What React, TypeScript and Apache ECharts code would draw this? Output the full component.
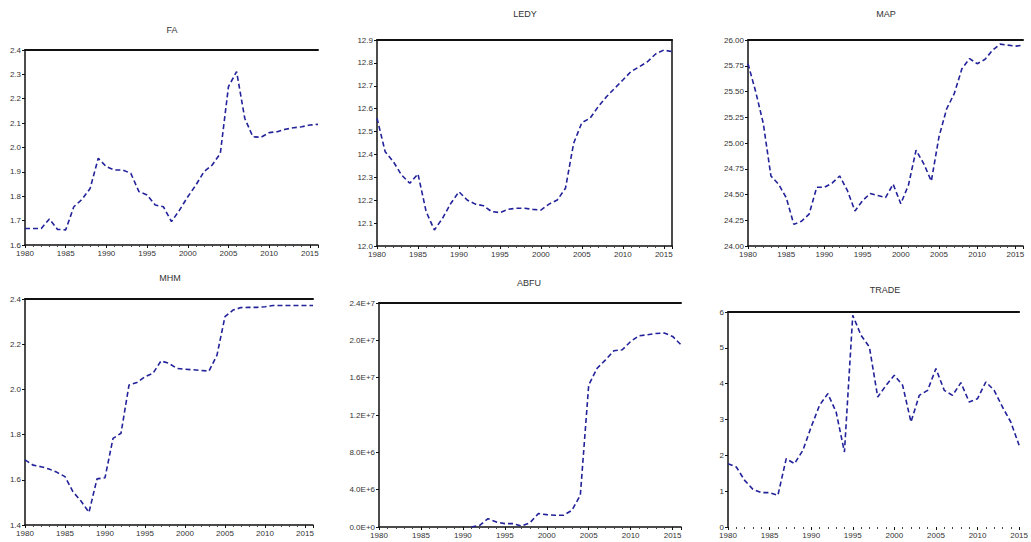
import React, { useEffect, useRef } from "react";
import * as echarts from "echarts";

const years = [1980, 1981, 1982, 1983, 1984, 1985, 1986, 1987, 1988, 1989, 1990, 1991, 1992, 1993, 1994, 1995, 1996, 1997, 1998, 1999, 2000, 2001, 2002, 2003, 2004, 2005, 2006, 2007, 2008, 2009, 2010, 2011, 2012, 2013, 2014, 2015, 2016];

const titles = ["FA", "LEDY", "MAP", "MHM", "ABFU", "TRADE"];

const fa = [1.668, 1.668, 1.668, 1.707, 1.664, 1.662, 1.757, 1.787, 1.832, 1.956, 1.921, 1.908, 1.908, 1.894, 1.819, 1.805, 1.764, 1.757, 1.696, 1.744, 1.798, 1.846, 1.901, 1.928, 1.976, 2.25, 2.311, 2.12, 2.044, 2.042, 2.061, 2.065, 2.075, 2.081, 2.085, 2.092, 2.095];
const ledy = [12.558, 12.412, 12.368, 12.31, 12.274, 12.315, 12.15, 12.07, 12.121, 12.186, 12.237, 12.201, 12.183, 12.176, 12.15, 12.146, 12.16, 12.165, 12.165, 12.16, 12.157, 12.183, 12.201, 12.252, 12.449, 12.539, 12.558, 12.609, 12.652, 12.689, 12.725, 12.762, 12.783, 12.805, 12.839, 12.856, 12.849];
const map = [25.77, 25.5, 25.19, 24.68, 24.6, 24.47, 24.21, 24.24, 24.31, 24.57, 24.57, 24.61, 24.68, 24.54, 24.34, 24.44, 24.51, 24.49, 24.47, 24.6, 24.41, 24.59, 24.93, 24.8, 24.63, 25.06, 25.33, 25.48, 25.72, 25.82, 25.77, 25.81, 25.9, 25.96, 25.95, 25.94, 25.95];
const mhm = [1.688, 1.665, 1.658, 1.648, 1.633, 1.614, 1.547, 1.506, 1.456, 1.604, 1.609, 1.783, 1.806, 2.019, 2.031, 2.056, 2.071, 2.126, 2.115, 2.093, 2.089, 2.087, 2.084, 2.081, 2.152, 2.322, 2.351, 2.362, 2.363, 2.363, 2.366, 2.371, 2.371, 2.371, 2.371, 2.371, 2.371];
const abfu = [null, null, null, null, null, null, null, null, null, null, null, 0, 179000, 895000, 537000, 358000, 358000, 107000, 466000, 1433000, 1325000, 1254000, 1254000, 1791000, 3403000, 15220000, 17010000, 17910000, 18880000, 18990000, 19880000, 20490000, 20600000, 20740000, 20780000, 20420000, 19520000];
const trade = [1.767, 1.674, 1.302, 1.051, 0.958, 0.958, 0.884, 1.907, 1.767, 2.14, 2.791, 3.395, 3.721, 3.209, 2.093, 5.907, 5.349, 5.023, 3.628, 3.953, 4.233, 3.953, 2.93, 3.674, 3.814, 4.419, 3.814, 3.674, 4.028, 3.488, 3.581, 4.047, 3.814, 3.349, 2.93, 2.279];

const seriesList = [fa, ledy, map, mhm, abfu, trade];

const yMin = [1.6, 12.0, 24.0, 1.4, 0, 0];
const yMax = [2.4, 12.9, 26.0, 2.4, 24000000, 6];
const yStep = [0.1, 0.1, 0.25, 0.2, 4000000, 1];
const xMax = [2016, 2016, 2016, 2016, 2016, 2015];

const grids = [
  { left: 25, top: 50, width: 293, height: 195 },
  { left: 377, top: 40, width: 295, height: 206 },
  { left: 748, top: 40, width: 275, height: 206 },
  { left: 25, top: 299, width: 288, height: 226 },
  { left: 379, top: 303, width: 302, height: 224 },
  { left: 728, top: 312, width: 303, height: 215 },
];

const titlePos = [
  [172, 30],
  [525, 14],
  [886, 14],
  [170, 278],
  [529, 283],
  [885, 290],
];

const LINE = "#22229a";
const AX = "#111";
const FONT = "Liberation Sans, Arial, sans-serif";

function fmtY(i: number, v: number): string {
  if (i === 0 || i === 1 || i === 3) return v.toFixed(1);
  if (i === 2) return v.toFixed(2);
  if (i === 4) {
    if (Math.abs(v) < 1) return "0.0E+0";
    const e = Math.floor(Math.log10(v) + 1e-9);
    const m = v / Math.pow(10, e);
    return m.toFixed(1) + "E+" + e;
  }
  return String(Math.round(v));
}

export default function App() {
  const ref = useRef<HTMLDivElement>(null);
  useEffect(() => {
    if (!ref.current) return;
    const chart = echarts.init(ref.current, undefined, { renderer: "svg" });
    const xAxis: any[] = [];
    const yAxis: any[] = [];
    const series: any[] = [];
    grids.forEach((g, i) => {
      xAxis.push({
        type: "value",
        gridIndex: i,
        min: 1980,
        max: xMax[i],
        interval: 5,
        axisLine: { show: i !== 5, lineStyle: { color: AX, width: 1.5 } },
        axisTick: { show: true, length: 3, lineStyle: { color: AX } },
        minorTick: { show: true, splitNumber: 5, length: 2, lineStyle: { color: "#444" } },
        splitLine: { show: false },
        axisLabel: {
          fontSize: 8,
          color: "#333",
          fontFamily: FONT,
          margin: 4,
          showMaxLabel: i === 5,
          formatter: (v: number) => (Math.round(v) % 5 === 0 ? String(Math.round(v)) : ""),
        },
      });
      xAxis.push({
        type: "value",
        gridIndex: i,
        position: "top",
        min: 1980,
        max: xMax[i],
        axisLine: { show: true, lineStyle: { color: AX, width: 2 } },
        axisTick: { show: false },
        axisLabel: { show: false },
        splitLine: { show: false },
      });
      yAxis.push({
        type: "value",
        gridIndex: i,
        min: yMin[i],
        max: yMax[i],
        interval: yStep[i],
        axisLine: { show: true, lineStyle: { color: AX, width: 1.5 } },
        axisTick: { show: true, length: 3, lineStyle: { color: AX } },
        splitLine: { show: false },
        axisLabel: {
          fontSize: 8,
          color: "#333",
          fontFamily: FONT,
          margin: 4,
          formatter: (v: number) => fmtY(i, v),
        },
      });
      if (i === 1) {
        yAxis.push({
          type: "value",
          gridIndex: i,
          position: "right",
          min: yMin[i],
          max: yMax[i],
          axisLine: { show: true, lineStyle: { color: AX, width: 1.5 } },
          axisTick: { show: false },
          axisLabel: { show: false },
          splitLine: { show: false },
        });
      }
    });
    // map grid index -> yAxis index
    const yIdx = [0, 1, 3, 4, 5, 6];
    seriesList.forEach((arr, i) => {
      series.push({
        type: "line",
        xAxisIndex: i * 2,
        yAxisIndex: yIdx[i],
        data: arr.map((v, k) => [years[k], v]),
        showSymbol: false,
        symbol: "none",
        connectNulls: false,
        lineStyle: { color: LINE, width: 1.6, type: [5, 3] },
      });
    });
    const graphic = titles.map((t, i) => ({
      type: "text",
      x: titlePos[i][0],
      y: titlePos[i][1],
      style: {
        text: t,
        fill: "#333",
        font: "9px " + FONT,
        textAlign: "center",
        textVerticalAlign: "middle",
      },
    }));
    chart.setOption({
      animation: false,
      backgroundColor: "#ffffff",
      grid: grids.map((g) => ({ ...g, containLabel: false })),
      xAxis,
      yAxis,
      series,
      graphic,
    });
    return () => chart.dispose();
  }, []);
  return (
    <div
      ref={ref}
      style={{ position: "fixed", left: 0, top: 0, width: 1031, height: 542, background: "#fff" }}
    />
  );
}
